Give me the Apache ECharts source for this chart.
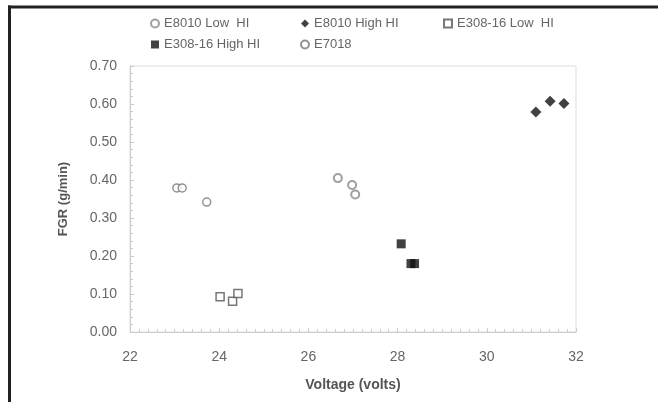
<!DOCTYPE html>
<html>
<head>
<meta charset="utf-8">
<script src="https://cdn.jsdelivr.net/npm/echarts@6/dist/echarts.min.js"></script>
<style>
  html, body { margin: 0; padding: 0; background: #fff; overflow: hidden; }
  #chart { width: 658px; height: 402px; }
</style>
</head>
<body>
<div id="chart"></div>
<script>
// series names and values [voltage, FGR]
var seriesNames = ["E8010 Low  HI", "E8010 High HI", "E308-16 Low  HI", "E308-16 High HI", "E7018"];
var e8010Low = [[26.66, 0.405], [26.98, 0.387], [27.05, 0.362]];
var e8010High = [[31.1, 0.579], [31.42, 0.607], [31.73, 0.601]];
var e308Low = [[24.02, 0.093], [24.3, 0.081], [24.42, 0.101]];
var e308High = [[28.08, 0.232], [28.3, 0.18], [28.38, 0.18]];
var e7018 = [[23.05, 0.379], [23.17, 0.379], [23.72, 0.342]];

var chart = echarts.init(document.getElementById("chart"));

var legendText = { color: "#666", fontSize: 13, fontFamily: "Liberation Sans, Arial" };
var axisFont = "Liberation Sans, Arial";

var option = {
    animation: false,
    // dark frame along the top and left edges of the scanned figure
    graphic: [{
        type: "rect",
        shape: { x: 8, y: 5.5, width: 650, height: 3 },
        style: { fill: "#222" },
        silent: true
    }, {
        type: "rect",
        shape: { x: 8, y: 5.5, width: 3, height: 397 },
        style: { fill: "#222" },
        silent: true
    }],
    legend: [{
        data: [seriesNames[0], seriesNames[3]],
        orient: "vertical",
        left: 145, top: 12,
        itemGap: 8, itemWidth: 8, itemHeight: 8,
        textStyle: legendText
    }, {
        data: [seriesNames[1], seriesNames[4]],
        orient: "vertical",
        left: 295, top: 12,
        itemGap: 8, itemWidth: 8, itemHeight: 8,
        textStyle: legendText
    }, {
        data: [seriesNames[2]],
        orient: "vertical",
        left: 438, top: 12,
        itemWidth: 8, itemHeight: 8,
        textStyle: legendText
    }],
    grid: { left: 130, right: 82, top: 66, bottom: 70, show: true, borderColor: "#ddd", borderWidth: 1 },
    xAxis: {
        type: "value",
        min: 22, max: 32, interval: 2,
        name: "Voltage (volts)",
        nameLocation: "middle",
        nameGap: 46,
        nameTextStyle: { color: "#555", fontWeight: "bold", fontSize: 14, fontFamily: axisFont },
        axisLine: { lineStyle: { color: "#ccc" } },
        axisTick: { show: true, inside: true, length: 4, lineStyle: { color: "#ccc" } },
        minorTick: { show: true, splitNumber: 10, length: 3, lineStyle: { color: "#ccc" } },
        splitLine: { show: false },
        axisLabel: { color: "#666", fontSize: 14, margin: 18, fontFamily: axisFont }
    },
    yAxis: {
        type: "value",
        min: 0, max: 0.7, interval: 0.1,
        name: "FGR (g/min)",
        nameLocation: "middle",
        nameGap: 60,
        nameTextStyle: { color: "#555", fontWeight: "bold", fontSize: 13, fontFamily: axisFont },
        axisLine: { show: true, lineStyle: { color: "#ccc" } },
        axisTick: { show: true, inside: true, length: 4, lineStyle: { color: "#ccc" } },
        minorTick: { show: true, splitNumber: 5, length: 3, lineStyle: { color: "#ccc" } },
        splitLine: { show: false },
        axisLabel: {
            color: "#666", fontSize: 14, margin: 13, fontFamily: axisFont,
            formatter: function (v) { return v.toFixed(2); }
        }
    },
    series: [{
        name: seriesNames[0], type: "scatter", data: e8010Low,
        symbol: "circle", symbolSize: 8,
        itemStyle: { color: "#fff", borderColor: "#888", borderWidth: 2 }
    }, {
        name: seriesNames[1], type: "scatter", data: e8010High,
        symbol: "diamond", symbolSize: 11,
        itemStyle: { color: "#111" }
    }, {
        name: seriesNames[2], type: "scatter", data: e308Low,
        symbol: "rect", symbolSize: 8,
        itemStyle: { color: "#fff", borderColor: "#555", borderWidth: 1.5 }
    }, {
        name: seriesNames[3], type: "scatter", data: e308High,
        symbol: "rect", symbolSize: 9,
        itemStyle: { color: "#111" }
    }, {
        name: seriesNames[4], type: "scatter", data: e7018,
        symbol: "circle", symbolSize: 8,
        itemStyle: { color: "#fff", borderColor: "#777", borderWidth: 1.5 }
    }]
};

chart.setOption(option);
</script>
</body>
</html>
